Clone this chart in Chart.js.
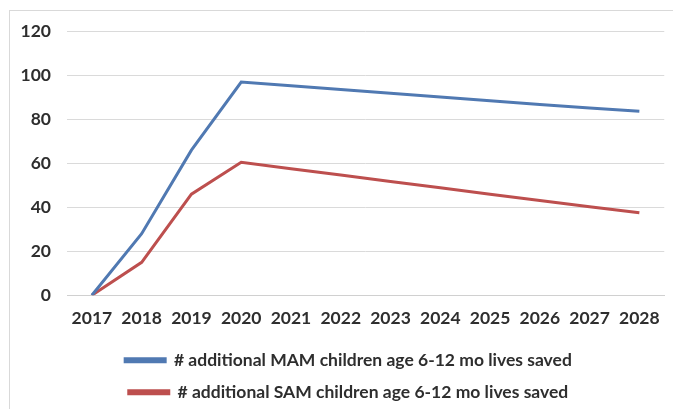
<!DOCTYPE html>
<html>
<head>
<meta charset="utf-8">
<script src="https://cdn.jsdelivr.net/npm/chart.js@4/dist/chart.umd.min.js"></script>
<style>
  html, body { margin: 0; padding: 0; background: #ffffff; }
  #wrap { width: 673px; height: 409px; position: relative; }
</style>
</head>
<body>
<div id="wrap"><canvas id="chart" width="673" height="409"></canvas></div>
<script>
// Years on the horizontal axis
const years = ['2017', '2018', '2019', '2020', '2021', '2022', '2023', '2024', '2025', '2026', '2027', '2028'];

// Additional lives saved, children aged 6-12 months
const mamLivesSaved = [0, 28, 66, 97, 95.3, 93.6, 91.9, 90.2, 88.5, 86.8, 85.2, 83.7];
const samLivesSaved = [0, 15, 46, 60.5, 57.6, 54.7, 51.8, 48.9, 46, 43.1, 40.3, 37.5];

const seriesLabels = [
  '# additional MAM children age 6-12 mo lives saved',
  '# additional SAM children age 6-12 mo lives saved'
];

// Light frame around the chart, and a small nudge of the legend block
const framePlugin = {
  id: 'frame',
  afterLayout(chart) {
    const lg = chart.legend;
    if (lg) { lg.left += 12; lg.right += 12; }
  },
  beforeDraw(chart) {
    const ctx = chart.ctx;
    ctx.save();
    ctx.strokeStyle = '#d9d9d9';
    ctx.lineWidth = 1;
    ctx.strokeRect(9.5, 10.5, 700, 420);
    ctx.restore();
  }
};

const tickFont = { family: 'Lato', size: 17.5, weight: '700' };

new Chart(document.getElementById('chart'), {
  type: 'line',
  data: {
    labels: years,
    datasets: [
      {
        label: seriesLabels[0],
        data: mamLivesSaved,
        borderColor: '#5079b2',
        backgroundColor: '#5079b2',
        borderWidth: 3,
        pointRadius: 0,
        tension: 0
      },
      {
        label: seriesLabels[1],
        data: samLivesSaved,
        borderColor: '#bd4f4e',
        backgroundColor: '#bd4f4e',
        borderWidth: 3,
        pointRadius: 0,
        tension: 0
      }
    ]
  },
  options: {
    responsive: false,
    animation: false,
    layout: { padding: { left: 8, right: 8, top: 31.5, bottom: -2 } },
    scales: {
      x: {
        offset: true,
        grid: { display: false, drawTicks: false },
        border: { display: true, color: '#d0d0d0', width: 1 },
        ticks: { font: tickFont, color: '#2e2e2e', padding: 13, maxRotation: 0, autoSkip: false },
        afterFit(scale) { scale.height = 41.75; }
      },
      y: {
        min: 0,
        max: 120,
        ticks: { stepSize: 20, font: tickFont, color: '#2e2e2e', padding: 16 },
        grid: { color: '#dadada', lineWidth: 1, drawTicks: false },
        border: { display: false },
        afterFit(scale) { scale.width = 59; }
      }
    },
    plugins: {
      legend: {
        position: 'bottom',
        labels: {
          font: { family: 'Lato', size: 17.5, weight: '700' },
          color: '#2e2e2e',
          boxWidth: 40,
          boxHeight: 3,
          padding: 14.5
        }
      },
      tooltip: { enabled: false }
    }
  },
  plugins: [framePlugin]
});
</script>
</body>
</html>
